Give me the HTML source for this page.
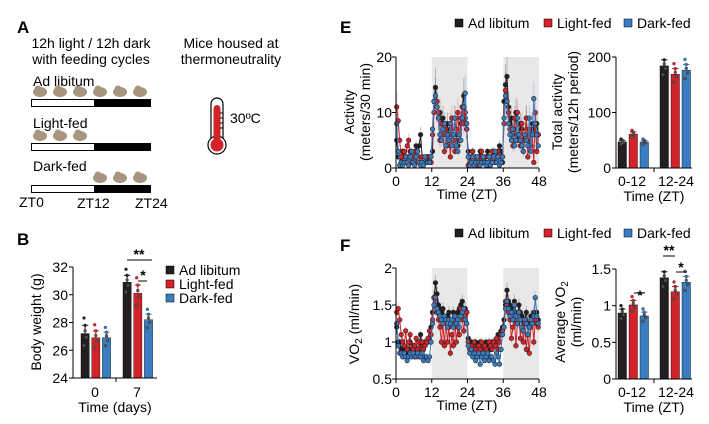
<!DOCTYPE html>
<html><head><meta charset="utf-8"><style>
html,body{margin:0;padding:0;background:#fff;}
svg{display:block;font-family:"Liberation Sans",Arial,sans-serif;}
</style></head><body>
<svg id="fig" width="709" height="424" viewBox="0 0 709 424" xmlns="http://www.w3.org/2000/svg">
<g id="panelA">
<text x="17" y="33" font-size="17" font-weight="bold">A</text>
<text x="91" y="48" font-size="14" text-anchor="middle">12h light / 12h dark</text>
<text x="91" y="64" font-size="14" text-anchor="middle">with feeding cycles</text>
<text x="231" y="48" font-size="14" text-anchor="middle">Mice housed at</text>
<text x="231" y="64" font-size="14" text-anchor="middle">thermoneutrality</text>
<text x="33" y="86" font-size="14">Ad libitum</text>
<text x="33" y="128" font-size="14">Light-fed</text>
<text x="33" y="171" font-size="14">Dark-fed</text>
<g>
<rect x="31.5" y="99.5" width="63" height="7" fill="#fff" stroke="#000"/><rect x="94" y="99" width="57" height="8" fill="#000"/>
<rect x="31.5" y="143.5" width="63" height="7" fill="#fff" stroke="#000"/><rect x="94" y="143" width="57" height="8" fill="#000"/>
<rect x="31.5" y="185.5" width="63" height="7" fill="#fff" stroke="#000"/><rect x="94" y="185" width="57" height="8" fill="#000"/>
</g>
<g id="food"></g>
<text x="19" y="207" font-size="14">ZT0</text>
<text x="77" y="208" font-size="14">ZT12</text>
<text x="135" y="208" font-size="14">ZT24</text>
<g>
<rect x="211" y="98" width="12" height="46" rx="6" fill="#fff" stroke="#000" stroke-width="1.2"/>
<circle cx="217" cy="145" r="9" fill="#fff" stroke="#000" stroke-width="1.2"/>
<rect x="213.5" y="105" width="7" height="40" rx="3.5" fill="#d2232a"/>
<circle cx="217" cy="145" r="6.5" fill="#d2232a"/>
<path d="M220 113h3M220 118h3M220 123h3M220 128h3" stroke="#000"/>
</g>
<text x="230" y="123" font-size="14">30ºC</text>
</g>
<text x="17" y="245" font-size="17" font-weight="bold">B</text>
<text x="340" y="33" font-size="17" font-weight="bold">E</text>
<text x="340" y="251" font-size="17" font-weight="bold">F</text>
<g id="charts"></g>
</svg>
<script>
// ---------- data ----------
const bwCategories = ["0","7"];
const bwAdLib = [27.2, 30.9];
const bwLightFed = [26.9, 30.1];
const bwDarkFed = [26.9, 28.2];
const bwErr = [[0.6,0.5],[0.5,0.6],[0.4,0.4]];
const bwTicks = [24,26,28,30,32];
const groupNames = ["Ad libitum","Light-fed","Dark-fed"];

const actAdLib = [5,2,2,1,3,2,1,1,2,3,2,1,2,4,3,4,6,2,1,1,1,2,1,1,
3,12,14.5,11,9,10,8,9,7,6,8,5,7,5,6,9,6,4,5,8,11,13,9,7,
3,1,2,3,1,2,1,2,3,1,2,1,2,3,1,2,2,3,1,2,3,4,3,1,
12,15,16.5,11,8,9,6,7,10,5,6,8,7,5,6,9,5,4,6,8,7,6,8,6];
const actLightFed = [11,8.5,5,2,1,3,2,4,5,2,1,2,3,1,2,2,1,2,1,1,2,2,2,1,
6,10,13,12,10,5,8,6,3,7,4,6,2,9,5,3,7,10,5,9,11,8,10,7,
0.5,2,1,3,1,2,0.5,2,1,3,1,2,1,0.5,2,1,3,2,1,2,3,2,1,2,
8,14,12,10,7,6,4,9,5,10,6,4,8,3,5,9,2,7,4,6,1,10,3,6];
const actDarkFed = [8,3,0.5,1,0.5,1,2,1,0.5,2,3,1,0.5,2,3,1,0.5,1,0.5,2,1,1,1,2,
7,12,13,11,9,6,5,7,8,4,6,5,8,4,6,9,4,3,6,5,9,11,13.5,8,
2,0.5,1,2,0.5,1,2,1,0.5,1,2,1,0.5,1,2,0.5,1,2,3,1,2,0.5,1,2,
9,13,12,8,6,5,7,4,5,9,6,5,4,3,6,5,4,9,3,6,12.5,8,6,4];
const actTicksX = [0,12,24,36,48];
const actTicksY = [0,10,20];

const totCategories = ["0-12","12-24"];
const totAdLib = [47,184];
const totLightFed = [61,169];
const totDarkFed = [47,176];
const totTicks = [0,100,200];

const vo2AdLib = [1.2,1.0,1.0,0.9,1.0,0.9,0.9,0.85,0.9,1.0,0.9,0.95,0.9,0.9,0.85,0.9,1.1,0.95,0.9,1.0,1.0,1.0,1.05,1.2,
1.4,1.6,1.8,1.65,1.5,1.45,1.4,1.45,1.35,1.3,1.35,1.4,1.3,1.25,1.4,1.35,1.3,1.4,1.45,1.5,1.55,1.4,1.45,1.4,
1.05,0.95,1.0,0.9,0.95,1.0,0.9,0.95,1.0,0.9,0.95,0.9,1.0,0.95,1.0,0.9,1.0,1.0,0.95,1.0,1.1,1.0,1.15,1.2,
1.3,1.5,1.7,1.55,1.5,1.4,1.45,1.55,1.4,1.35,1.5,1.4,1.35,1.25,1.3,1.4,1.25,1.2,1.35,1.3,1.4,1.35,1.4,1.3];
const vo2LightFed = [1.4,1.45,1.3,1.1,1.0,0.95,1.15,0.9,1.0,1.1,0.85,0.9,0.95,1.05,0.9,1.0,0.85,1.0,0.9,0.95,1.0,1.05,1.15,1.1,
1.3,1.6,1.55,1.4,1.3,1.2,1.0,1.25,0.95,1.3,1.0,1.2,0.85,1.1,0.95,1.3,1.0,1.2,1.1,1.45,1.3,1.15,1.35,1.4,
1.0,0.9,0.95,0.85,1.0,0.9,0.8,0.95,0.9,1.0,0.85,0.95,0.9,0.85,1.0,0.95,0.9,1.0,0.95,1.05,0.9,1.0,1.1,1.15,
1.2,1.55,1.45,1.4,1.3,1.05,1.2,1.3,0.95,1.25,1.4,1.05,1.3,1.0,1.25,0.9,1.1,0.85,1.2,1.3,1.0,1.3,1.25,1.2];
const vo2DarkFed = [1.25,0.95,0.85,0.85,0.8,0.85,0.8,0.75,0.8,0.85,0.8,0.85,0.8,0.8,0.85,0.8,0.8,0.85,0.75,0.8,0.8,0.75,0.8,1.0,
1.25,1.5,1.6,1.45,1.4,1.35,1.3,1.25,1.35,1.3,1.2,1.3,1.25,1.3,1.2,1.35,1.25,1.3,1.2,1.35,1.4,1.45,1.3,1.25,
0.95,0.85,0.9,0.8,0.85,0.75,0.8,0.85,0.7,0.8,0.85,0.75,0.8,0.85,0.75,0.8,0.8,0.75,0.7,0.85,0.8,0.7,0.9,1.1,
1.2,1.45,1.55,1.45,1.35,1.4,1.3,1.5,1.35,1.25,1.4,1.3,1.2,1.15,1.3,1.25,1.1,1.2,1.3,1.25,1.35,1.6,1.35,1.25];
const vo2TicksY = [0.5,1,1.5,2];

const avgAdLib = [0.9,1.38];
const avgLightFed = [1.01,1.19];
const avgDarkFed = [0.86,1.32];
const avgTicks = [0,0.5,1,1.5];

const FS = 14;
const COLORS = ["#231f20","#d2232a","#3a7cc1"];
const NS = "http://www.w3.org/2000/svg";
const root = document.getElementById("charts");
function mk(tag, attrs, parent, text){
  const e = document.createElementNS(NS, tag);
  for (const k in attrs) e.setAttribute(k, attrs[k]);
  if (text !== undefined) e.textContent = text;
  (parent || root).appendChild(e);
  return e;
}
function lin(d0,d1,r0,r1){ return v => r0 + (v-d0)/(d1-d0)*(r1-r0); }

// food pellets
const food = document.getElementById("food");
[[0,1,2,3,4,5,92],[0,1,2,-1,-1,-1,136],[-1,-1,-1,3,4,5,178]].forEach(row=>{
  for(let i=0;i<6;i++){ if(row[i]<0) continue;
    const cx = 40 + row[i]*20, cy = row[6];
    mk("ellipse",{cx:cx,cy:cy,rx:7,ry:5,fill:"#a89580"},food);
    mk("circle",{cx:cx-2,cy:cy-3,r:3.5,fill:"#a89580"},food);
  }
});

function barChart(name, x0, x1, yMin, yMax, yTop, yBot, series, ticks, tickFmt, groupX, barW, errs){
  const g = mk("g",{});
  
  
  const y = lin(yMin,yMax,yBot,yTop);
  series.forEach((vals,si)=>{
    vals.forEach((v,ci)=>{
      const bx = groupX[ci] + si*(barW+2.5);
      const r = mk("rect",{x:bx,y:y(v),width:barW,height:yBot-y(v),fill:COLORS[si],stroke:"#000","stroke-width":0.4},g);
      
      
      const e = errs ? errs[si][ci] : v*0.06;
      mk("line",{x1:bx+barW/2,x2:bx+barW/2,y1:y(v),y2:y(v+e),stroke:COLORS[si],"stroke-width":1},g);
      mk("line",{x1:bx+1,x2:bx+barW-1,y1:y(v+e),y2:y(v+e),stroke:COLORS[si],"stroke-width":1},g);
      const offs = [1.7,0.9,-0.4,-1.3,0.3];
      offs.forEach((o,k)=>{
        const dv = v + o*e*1.1;
        if(dv<yMin||dv>yMax) return;
        mk("circle",{cx:bx+3+(k%3)*(barW-6)/2,cy:y(dv),r:1.5,fill:k<2?COLORS[si]:"#555",stroke:"#222","stroke-width":0.3},g);
      });
    });
  });
  mk("line",{x1:x0,x2:x0,y1:yTop,y2:yBot,stroke:"#000","stroke-width":1},g);
  mk("line",{x1:x0,x2:x1,y1:yBot,y2:yBot,stroke:"#000","stroke-width":1},g);
  ticks.forEach(t=>{
    mk("line",{x1:x0-4,x2:x0,y1:y(t),y2:y(t),stroke:"#000"},g);
    const tl = mk("text",{x:x0-5,y:y(t)+5,"font-size":FS,"text-anchor":"end"},g,tickFmt(t));
    
    
  });
  return {g:g,y:y};
}
function seriesLegend(name,x,y,vertical,positions){
  const g = mk("g",{});
  
  
  groupNames.forEach((n,i)=>{
    const px = vertical ? x : positions[i], py = vertical ? y + i*14 : y;
    mk("rect",{x:px,y:py-9,width:8,height:8,fill:COLORS[i],stroke:"#000","stroke-width":0.5},g);
    const t = mk("text",{x:px+13,y:py,"font-size":FS},g,n);
    
    
  });
}

// ---- Panel B ----
const B = barChart("body-weight-chart",73,157,24,32,267,378,[bwAdLib,bwLightFed,bwDarkFed],bwTicks,t=>String(t),[81,123],8.2,bwErr);
mk("line",{x1:116,x2:116,y1:378,y2:382,stroke:"#000"},B.g);
bwCategories.forEach((c,i)=>{
  const t=mk("text",{x:95+i*42,y:397,"font-size":FS,"text-anchor":"middle"},B.g,c);
    });
let tt = mk("text",{x:115,y:412,"font-size":FS,"text-anchor":"middle"},B.g,"Time (days)");
 
tt = mk("text",{transform:"translate(41 322) rotate(-90)","font-size":FS,"text-anchor":"middle"},B.g,"Body weight (g)");
 
mk("line",{x1:127,x2:152,y1:260,y2:260,stroke:"#000"},B.g);
mk("text",{x:139,y:259,"font-size":FS,"font-weight":"bold","text-anchor":"middle"},B.g,"**");
mk("line",{x1:138,x2:147,y1:281,y2:281,stroke:"#000"},B.g);
mk("text",{x:143,y:280,"font-size":FS,"font-weight":"bold","text-anchor":"middle"},B.g,"*");
seriesLegend("body-weight-legend",166,275,true);

function timeSeries(name, yMin, yMax, yTop, yBot, series, yTicks, fmt, errScale){
  const g = mk("g",{});
  
  
  const x = lin(0,48,396,539), y = lin(yMin,yMax,yBot,yTop);
  [[12,24],[36,48]].forEach(s=> mk("rect",{x:x(s[0]),y:yTop,width:x(s[1])-x(s[0]),height:yBot-yTop,fill:"#e8e8e8"},g));
  series.forEach((vals,si)=>{
    vals.forEach((v,i)=>{ const xx=x(i*0.5+0.25);
      mk("line",{x1:xx,x2:xx,y1:y(Math.max(yMin,v-errScale*v)),y2:y(Math.min(yMax,v+errScale*v)),stroke:COLORS[si],"stroke-opacity":0.25,"stroke-width":1},g); });
  });
  series.forEach((vals,si)=>{
    const pts = vals.map((v,i)=>x(i*0.5+0.25).toFixed(1)+","+y(v).toFixed(1)).join(" ");
    const pl = mk("polyline",{points:pts,fill:"none",stroke:COLORS[si],"stroke-width":1},g);
    
    
    vals.forEach((v,i)=> mk("circle",{cx:x(i*0.5+0.25),cy:y(v),r:2.3,fill:COLORS[si],stroke:"#222","stroke-width":0.6},g));
  });
  mk("line",{x1:396,x2:396,y1:yTop,y2:yBot,stroke:"#000"},g);
  mk("line",{x1:396,x2:539,y1:yBot,y2:yBot,stroke:"#000"},g);
  yTicks.forEach(t=>{ mk("line",{x1:392,x2:396,y1:y(t),y2:y(t),stroke:"#000"},g);
    const tl=mk("text",{x:392,y:y(t)+5,"font-size":FS,"text-anchor":"end"},g,fmt(t));
      });
  actTicksX.forEach(t=>{ mk("line",{x1:x(t),x2:x(t),y1:yBot,y2:yBot+4,stroke:"#000"},g);
    const tl=mk("text",{x:x(t),y:yBot+18,"font-size":FS,"text-anchor":"middle"},g,String(t));
      });
  const xt=mk("text",{x:467,y:yBot+31,"font-size":FS,"text-anchor":"middle"},g,"Time (ZT)");
   
  return g;
}

// ---- Panel E ----
seriesLegend("activity-legend",0,28,false,[455,544,624]);
const E = timeSeries("activity-chart",0,20,57,168,[actAdLib,actLightFed,actDarkFed],actTicksY,t=>String(t),0.25);
tt=mk("text",{transform:"translate(354 112) rotate(-90)","font-size":FS,"text-anchor":"middle"},E,"Activity");
 
tt=mk("text",{transform:"translate(370 112) rotate(-90)","font-size":FS,"text-anchor":"middle"},E,"(meters/30 min)");
 

const Et = barChart("total-activity-chart",616,692,0,200,57,168,[totAdLib,totLightFed,totDarkFed],totTicks,t=>String(t),[618,660],8.5,null);
totCategories.forEach((c,i)=>{ const t=mk("text",{x:632+i*44,y:186,"font-size":FS,"text-anchor":"middle"},Et.g,c);
    });
mk("line",{x1:654,x2:654,y1:168,y2:172,stroke:"#000"},Et.g);
tt=mk("text",{x:654,y:201,"font-size":FS,"text-anchor":"middle"},Et.g,"Time (ZT)");
 
tt=mk("text",{transform:"translate(562 112) rotate(-90)","font-size":FS,"text-anchor":"middle"},Et.g,"Total activity");
 
tt=mk("text",{transform:"translate(578 112) rotate(-90)","font-size":FS,"text-anchor":"middle"},Et.g,"(meters/12h period)");
 

// ---- Panel F ----
seriesLegend("vo2-legend",0,238,false,[455,544,624]);
const F = timeSeries("vo2-chart",0.5,2,268,379,[vo2AdLib,vo2LightFed,vo2DarkFed],vo2TicksY,t=>String(t),0.06);
tt=mk("text",{transform:"translate(359 324) rotate(-90)","font-size":FS,"text-anchor":"middle"},F);
tt.innerHTML='VO<tspan font-size="10" dy="3">2</tspan><tspan dy="-3"> (ml/min)</tspan>';
 

const Fa = barChart("average-vo2-chart",616,692,0,1.5,269,379,[avgAdLib,avgLightFed,avgDarkFed],avgTicks,t=>String(t),[618,660],8.5,null);
totCategories.forEach((c,i)=>{ const t=mk("text",{x:632+i*44,y:397,"font-size":FS,"text-anchor":"middle"},Fa.g,c);
    });
mk("line",{x1:654,x2:654,y1:379,y2:383,stroke:"#000"},Fa.g);
tt=mk("text",{x:654,y:412,"font-size":FS,"text-anchor":"middle"},Fa.g,"Time (ZT)");
 
tt=mk("text",{transform:"translate(565 322) rotate(-90)","font-size":FS,"text-anchor":"middle"},Fa.g);
tt.innerHTML='Average VO<tspan font-size="10" dy="3">2</tspan>';
 
tt=mk("text",{transform:"translate(581 322) rotate(-90)","font-size":FS,"text-anchor":"middle"},Fa.g,"(ml/min)");
 
mk("line",{x1:634,x2:645,y1:293,y2:293,stroke:"#000"},Fa.g);
mk("text",{x:640,y:300,"font-size":FS,"font-weight":"bold","text-anchor":"middle"},Fa.g,"*");
mk("line",{x1:663,x2:675,y1:256,y2:256,stroke:"#000"},Fa.g);
mk("text",{x:669,y:255,"font-size":FS,"font-weight":"bold","text-anchor":"middle"},Fa.g,"**");
mk("line",{x1:676,x2:687,y1:272,y2:272,stroke:"#000"},Fa.g);
mk("text",{x:681,y:272,"font-size":FS,"font-weight":"bold","text-anchor":"middle"},Fa.g,"*");
</script>
</body></html>
